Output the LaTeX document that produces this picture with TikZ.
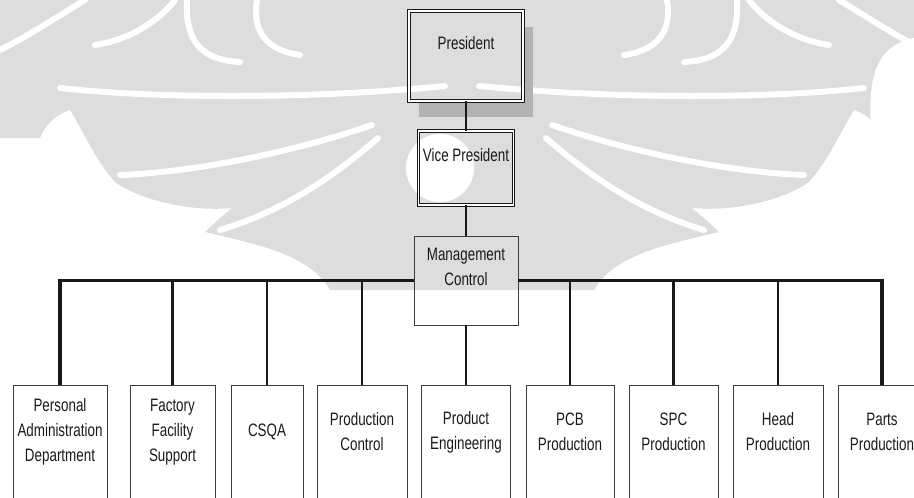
\documentclass[tikz,border=0pt]{standalone}
\usepackage{fontspec}
\setmainfont{Liberation Sans}[FakeStretch=0.745]
\usepackage{tikz}
\usetikzlibrary{positioning,calc}
\definecolor{wmgray}{RGB}{221,221,221}
\definecolor{shadowgray}{RGB}{178,178,178}
\definecolor{boxline}{RGB}{60,60,60}
\definecolor{inkdark}{RGB}{25,25,25}

\begin{document}
\begin{tikzpicture}[x=1pt, y=-1pt, font=\fontsize{18}{25}\selectfont,
    txt/.style={text=inkdark, align=center, inner sep=0pt},
    dblbox/.style={draw=inkdark, double, double distance=1.8pt,
                   line width=0.9pt, inner sep=0pt},
    unitbox/.style={draw=boxline, line width=0.9pt, inner sep=0pt,
                    anchor=north, minimum height=150pt},
    link/.style={draw=inkdark, line width=2.4pt},
    bus/.style={draw=inkdark, line width=3.2pt},
    carve/.style={white, line width=6pt, line cap=round}]

  \useasboundingbox (0,0) rectangle (914,498);
  \clip (0,0) rectangle (914,498);

  % watermark, left half and its mirror
  \foreach \sx/\ox in {1/0,-1/924}{
    \begin{scope}[shift={(\ox,0)}, xscale=\sx]
      \fill[wmgray] (0,0) -- (462,0) -- (462,290) -- (330,290)
        .. controls (310,255) and (260,245) .. (205,232)
        .. controls (215,222) and (225,214) .. (232,208)
        .. controls (190,212) and (140,200) .. (115,182)
        .. controls (95,160) and (80,125) .. (70,110)
        .. controls (55,115) and (45,125) .. (40,138)
        -- (0,138) -- cycle;
      \draw[carve] (60,88) .. controls (150,98) and (300,100) .. (445,86);
      \draw[carve] (120,175) .. controls (200,172) and (300,150) .. (372,125);
      \draw[carve] (220,230) .. controls (280,212) and (330,180) .. (378,138);
      \draw[carve] (0,50) .. controls (30,35) and (60,15) .. (85,0);
      \draw[carve] (95,45) .. controls (130,40) and (160,20) .. (175,0);
      \draw[carve] (187,0) .. controls (185,40) and (200,60) .. (240,62);
      \draw[carve] (257,0) .. controls (252,30) and (265,50) .. (300,55);
    \end{scope}
  }
  \fill[white] (440,168) circle [radius=34pt];
  \fill[white] (914,38) .. controls (880,45) and (865,70) .. (872,140)
    -- (914,140) -- cycle;

  % shadow of the top box
  \fill[shadowgray] (523,27) rectangle (533,117);
  \fill[shadowgray] (419,101) rectangle (523,117);

  % top of the chart
  \node[dblbox, minimum width=114pt, minimum height=90pt] (pres) at (466,56) {};
  \node[txt, yshift=13pt] (pres-t) at (pres) {President};

  \node[dblbox, minimum width=95pt, minimum height=74pt] (vp) at (466,168) {};
  \node[txt, yshift=13pt] (vp-t) at (vp) {Vice President};

  \node[draw=boxline, line width=0.9pt, minimum width=104pt,
        minimum height=89pt] (mgmt) at (466,280.5) {};
  \node[txt, yshift=13.5pt] (mgmt-t) at (mgmt) {Management\\Control};

  % departments
  \foreach \n/\x/\w/\txt in {pad/60/94/{Personal\\Administration\\Department},
      ffs/172.5/85/{Factory\\Facility\\Support}, csqa/267/72/{CSQA},
      pc/362/90/{Production\\Control}, pe/466/89/{Product\\Engineering},
      pcb/570/88/{PCB\\Production}, spc/673.5/89/{SPC\\Production},
      head/778/90/{Head\\Production}, parts/882/88/{Parts\\Production}}{
    \node[unitbox, minimum width=\w pt] (\n) at (\x,385) {};
    \node[txt] (\n-t) at ($(\n.north)+(0,47)$) {\txt};
  }

  \draw[link] (pres) -- (vp);
  \draw[link] (vp) -- (mgmt);
  \draw[link] (mgmt) -- (pe);
  \draw[bus] (pad.north) |- (mgmt.west);
  \draw[bus] (parts.north) |- (mgmt.east);
  \foreach \n in {ffs,csqa,pc,pcb,spc,head}
    \draw[link] (\n.north) -- (\n.north |- mgmt.west);
\end{tikzpicture}
\end{document}
